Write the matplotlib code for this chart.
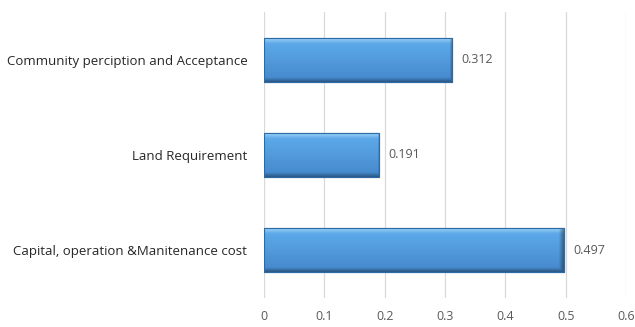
import numpy as np
import matplotlib
matplotlib.use("Agg")
import matplotlib.pyplot as plt

categories = ["Capital, operation &Manitenance cost",
              "Land Requirement",
              "Community perciption and Acceptance"]
values = [0.497, 0.191, 0.312]
xticks = [0, 0.1, 0.2, 0.3, 0.4, 0.5, 0.6]

plt.rcParams["font.family"] = ["Open Sans", "DejaVu Sans"]

fig = plt.figure(figsize=(6.35, 3.27), dpi=100)
ax = fig.add_axes([0.4157, 0.0887, 0.5701, 0.8746])

ypos = np.arange(len(categories))
bars = ax.barh(ypos, values, height=0.46, color="#5aa3e3",
               edgecolor="#2e6aa6", linewidth=0.8, zorder=3)

# bevelled shading painted over each bar (row 0 = top edge)
def bevel(nx=200, ny=60):
    t = np.linspace(0, 1, ny)[:, None]          # 0 top -> 1 bottom
    s = np.linspace(0, 1, nx)[None, :]          # 0 left -> 1 right
    top = np.array([0x9a, 0xd2, 0xf7]) / 255
    mid = np.array([0x5c, 0xa8, 0xe8]) / 255
    bot = np.array([0x44, 0x88, 0xcc]) / 255
    tt = t[..., None]
    col = np.where(tt < 0.12,
                   top + (mid - top) * (tt / 0.12),
                   mid + (bot - mid) * ((tt - 0.12) / 0.88))
    col = np.broadcast_to(col, (ny, nx, 3)).copy()
    # darker rim near bottom and right edge
    rim_b = np.clip((t - 0.9) / 0.1, 0, 1)
    rim_r = np.clip((s - 0.985) / 0.015, 0, 1)
    rim = np.maximum(rim_b, rim_r)[..., None]
    col = col * (1 - 0.35 * rim)
    return col

img = bevel()
for b in bars:
    x0, y0 = b.get_x(), b.get_y()
    w, h = b.get_width(), b.get_height()
    ax.imshow(img, extent=[x0, x0 + w, y0, y0 + h], origin="lower",
              aspect="auto", zorder=4, interpolation="bilinear")
    ax.add_patch(plt.Rectangle((x0, y0), w, h, fill=False,
                               edgecolor="#2e6aa6", linewidth=0.8, zorder=5))
    ax.text(x0 + w + 0.016, y0 + h / 2, f"{w:.3f}", va="center", ha="left",
            fontsize=9, color="#595959")

# imshow rows run bottom-up with origin="lower"; flip so row 0 is the top edge
for im in ax.images:
    im.set_data(im.get_array()[::-1])

ax.set_xlim(0, 0.6)
ax.set_ylim(-0.5, 2.5)
ax.set_xticks(xticks)
ax.set_xticklabels([f"{v:g}" for v in xticks], fontsize=9, color="#595959")
ax.set_yticks(ypos)
ax.set_yticklabels(categories, fontsize=9.5, color="#262626")
ax.tick_params(axis="both", length=0)
ax.tick_params(axis="x", pad=9)
ax.tick_params(axis="y", pad=12)
ax.grid(axis="x", color="#d9d9d9", linewidth=0.9, zorder=0)
for sp in ax.spines.values():
    sp.set_visible(False)

fig.savefig("out.png", dpi=100)
